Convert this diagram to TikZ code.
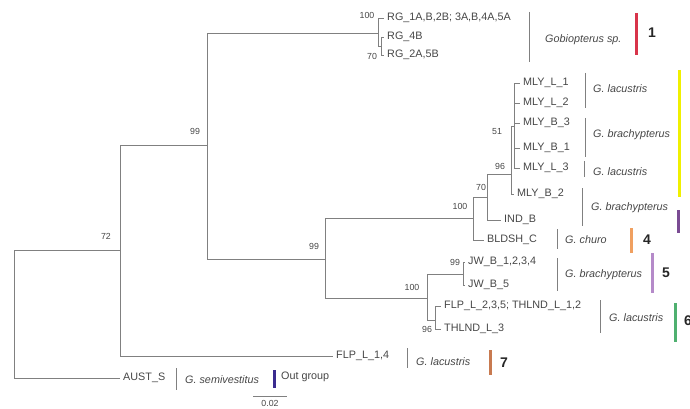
\documentclass[tikz,border=0pt]{standalone}
\usepackage{fontspec}
\setmainfont{Liberation Sans}
\setsansfont{Liberation Sans}
\definecolor{branch}{RGB}{128,128,128}
\definecolor{ink}{RGB}{70,70,70}
\definecolor{cred}{RGB}{216,52,74}
\definecolor{cyellow}{RGB}{240,240,0}
\definecolor{cplum}{RGB}{122,75,147}
\definecolor{corange}{RGB}{240,160,96}
\definecolor{clilac}{RGB}{181,138,201}
\definecolor{cgreen}{RGB}{79,176,112}
\definecolor{cbrown}{RGB}{200,122,80}
\definecolor{cnavy}{RGB}{59,43,143}
\begin{document}
\begin{tikzpicture}[x=1pt,y=-1pt,
  font=\sffamily\fontsize{10.8}{12}\selectfont,
  br/.style={draw=branch,line width=0.9pt},
  tip/.style={anchor=west,inner sep=3pt,text=ink},
  bs/.style={font=\sffamily\fontsize{8.8}{10}\selectfont,inner sep=0pt,text=ink},
  sp/.style={anchor=west,inner sep=0pt,font=\sffamily\itshape\fontsize{10.8}{12}\selectfont,text=ink},
  sep/.style={draw=branch,line width=0.9pt},
  bar/.style={line width=3pt},
  grp/.style={anchor=west,inner sep=0pt,font=\sffamily\bfseries\fontsize{14}{16}\selectfont,text=black!85}]
\useasboundingbox (0,0) rectangle (690,409);

% inner nodes
\coordinate (root)  at (14,314);
\coordinate (n72)   at (120,250);
\coordinate (n99a)  at (207,145);
\coordinate (rg100) at (378,33);
\coordinate (rg70)  at (381,46);
\coordinate (n99b)  at (325,259);
\coordinate (n100a) at (473,218);
\coordinate (n70)   at (487,197);
\coordinate (n96)   at (511,174);
\coordinate (n51)   at (514,126);
\coordinate (n100b) at (427,298);
\coordinate (jw99)  at (463,274);
\coordinate (th96)  at (435,320);

% leaves
\node[tip] (rg1)  at (384,18)  {RG\_1A,B,2B; 3A,B,4A,5A};
\node[tip] (rg4)  at (384,37)  {RG\_4B};
\node[tip] (rg2)  at (384,55)  {RG\_2A,5B};
\node[tip] (ml1)  at (520,83)  {MLY\_L\_1};
\node[tip] (ml2)  at (520,103) {MLY\_L\_2};
\node[tip] (mb3)  at (520,123) {MLY\_B\_3};
\node[tip] (mb1)  at (520,148) {MLY\_B\_1};
\node[tip] (ml3)  at (520,168) {MLY\_L\_3};
\node[tip] (mb2)  at (514,194) {MLY\_B\_2};
\node[tip] (indb) at (501,220) {IND\_B};
\node[tip] (bld)  at (484,240) {BLDSH\_C};
\node[tip] (jw1)  at (465,262) {JW\_B\_1,2,3,4};
\node[tip] (jw5)  at (465,285) {JW\_B\_5};
\node[tip] (flp2) at (441,306) {FLP\_L\_2,3,5; THLND\_L\_1,2};
\node[tip] (th3)  at (441,329) {THLND\_L\_3};
\node[tip] (flp1) at (333,356) {FLP\_L\_1,4};
\node[tip] (aust) at (120,378) {AUST\_S};

% branches
\draw[br] (root) |- (n72);
\draw[br] (root) |- (aust.west);
\draw[br] (n72) |- (n99a);
\draw[br] (n72) |- (flp1.west);
\draw[br] (n99a) |- (rg100);
\draw[br] (n99a) |- (n99b);
\draw[br] (rg100) |- (rg1.west);
\draw[br] (rg100) |- (rg70);
\draw[br] (rg70) |- (rg4.west);
\draw[br] (rg70) |- (rg2.west);
\draw[br] (n99b) |- (n100a);
\draw[br] (n99b) |- (n100b);
\draw[br] (n100a) |- (n70);
\draw[br] (n100a) |- (bld.west);
\draw[br] (n70) |- (n96);
\draw[br] (n70) |- (indb.west);
\draw[br] (n96) |- (n51);
\draw[br] (n96) |- (mb2.west);
\foreach \c in {ml1,ml2,mb3,mb1,ml3}
  \draw[br] (n51) |- (\c.west);
\draw[br] (n100b) |- (jw99);
\draw[br] (n100b) |- (th96);
\draw[br] (jw99) |- (jw1.west);
\draw[br] (jw99) |- (jw5.west);
\draw[br] (th96) |- (flp2.west);
\draw[br] (th96) |- (th3.west);

% support values
\node[bs] (s72)   at (106,236) {72};
\node[bs] (s99a)  at (195,131) {99};
\node[bs] (s99b)  at (314,246) {99};
\node[bs] (srg1)  at (367,15)  {100};
\node[bs] (srg2)  at (372,56)  {70};
\node[bs] (s100a) at (460,206) {100};
\node[bs] (s70)   at (481,187) {70};
\node[bs] (s96)   at (500,166) {96};
\node[bs] (s51)   at (497,132) {51};
\node[bs] (s99c)  at (455,262) {99};
\node[bs] (s100b) at (412,287) {100};
\node[bs] (s96b)  at (427,329) {96};

% species
\draw[sep] (529,12) -- (529,62);
\node[sp] (gobio) at (545,40) {Gobiopterus sp.};
\draw[sep] (585,73) -- (585,108);
\node[sp] (lac1) at (593,89) {G. lacustris};
\draw[sep] (585,118) -- (585,157);
\node[sp] (bra1) at (593,135) {G. brachypterus};
\draw[sep] (584,161) -- (584,177);
\node[sp] (lac2) at (593,172) {G. lacustris};
\draw[sep] (582,188) -- (582,226);
\node[sp] (bra2) at (591,208) {G. brachypterus};
\draw[sep] (557,229) -- (557,249);
\node[sp] (churo) at (565,240) {G. churo};
\draw[sep] (557,258) -- (557,291);
\node[sp] (bra3) at (565,275) {G. brachypterus};
\draw[sep] (600,300) -- (600,333);
\node[sp] (lac3) at (609,318) {G. lacustris};
\draw[sep] (407,348) -- (407,368);
\node[sp] (lac4) at (416,362) {G. lacustris};
\draw[sep] (176,368) -- (176,390);
\node[sp] (semi) at (185,380) {G. semivestitus};

% groups
\draw[bar,draw=cred] (636,13) -- (636,55);
\node[grp] (g1) at (648,33) {1};
\draw[bar,draw=cyellow] (679,70) -- (679,197);
\draw[bar,draw=cplum] (678,210) -- (678,233);
\draw[bar,draw=corange] (631,228) -- (631,253);
\node[grp] (g4) at (643,240) {4};
\draw[bar,draw=clilac] (652,253) -- (652,293);
\node[grp] (g5) at (662,273) {5};
\draw[bar,draw=cgreen] (675,303) -- (675,342);
\node[grp] (g6) at (684,321) {6};
\draw[bar,draw=cbrown] (490,350) -- (490,375);
\node[grp] (g7) at (500,363) {7};
\draw[bar,draw=cnavy] (274,370) -- (274,388);
\node[sp,font=\sffamily\fontsize{10.8}{12}\selectfont] (out) at (281,377) {Out group};

% scale
\draw[sep] (253,396) -- (287,396);
\node[bs] (scale) at (270,403) {0.02};
\end{tikzpicture}
\end{document}
